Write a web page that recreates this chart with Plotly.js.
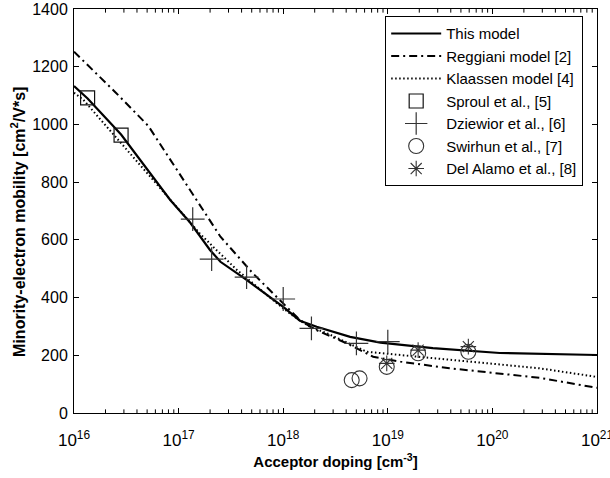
<!DOCTYPE html>
<html>
<head>
<meta charset="utf-8">
<script src="https://cdn.plot.ly/plotly-3.0.1.min.js"></script>
<style>
html,body{margin:0;padding:0;background:#fff}
#chart{width:610px;height:478px}
</style>
</head>
<body>
<div id="chart"></div>
<script>
// exponents of acceptor doping (log10 cm^-3) and mobilities (cm^2/V*s)
var thisModelLogN = [16.0, 16.13, 16.45, 16.92, 17.11, 17.30, 17.40, 17.65, 18.0, 18.16, 18.32, 18.64, 18.93, 19.43, 20.07, 20.5, 21.0];
var thisModelMu   = [1133, 1090, 965, 738, 660, 565, 524, 461, 368, 320, 299, 264, 244, 225, 208, 204, 201];

var reggLogN = [16.0, 16.4, 16.71, 17.045, 17.40, 17.71, 18.03, 18.16, 18.3, 18.45, 18.61, 18.86, 19.12, 19.59, 20.07, 20.45, 21.0];
var reggMu   = [1252, 1110, 995, 807, 611, 484, 368, 322, 290, 265, 241, 195, 178, 155, 138, 122, 87];

var klaLogN = [16.0, 16.09, 16.45, 16.98, 17.2, 17.33, 17.56, 17.94, 18.1, 18.25, 18.42, 18.8, 19.12, 19.59, 20.07, 20.45, 21.0];
var klaMu   = [1110, 1085, 935, 714, 623, 576, 495, 380, 335, 300, 276, 212, 201, 184, 166, 155, 125];

var sproulLogN = [16.13, 16.45];
var sproulMu   = [1092, 963];

var dziewiorLogN = [17.135, 17.316, 17.65, 18.0, 18.27, 18.70, 19.0];
var dziewiorMu   = [672, 533, 471, 395, 293, 241, 247];

var swirhunLogN = [18.655, 18.73, 18.99, 19.29, 19.77];
var swirhunMu   = [114, 120, 160, 207, 212];

var alamoLogN = [18.99, 19.29, 19.77];
var alamoMu   = [172, 218, 230];

var decadeExps = [16, 17, 18, 19, 20, 21];
var decadeLabels = ['10<sup>16</sup>', '10<sup>17</sup>', '10<sup>18</sup>', '10<sup>19</sup>', '10<sup>20</sup>', '10<sup>21</sup>'];
var minorMultipliers = [2, 3, 4, 5, 6, 7, 8, 9];

var yTitle = 'Minority-electron mobility [cm<sup>2</sup>/V*s]';
var xTitle = 'Acceptor doping [cm<sup>-3</sup>]';

function toN(arr){ return arr.map(function(e){ return Math.pow(10, e); }); }

// minor log tick positions (2..9 x 10^k)
var minorLogVals = [];
decadeExps.slice(0, -1).forEach(function(d){
  minorMultipliers.forEach(function(m){ minorLogVals.push(d + Math.log10(m)); });
});

// Shapes on a log axis: depending on the Plotly build, coordinates are read either as
// log10 units or as data values. Emit both forms; the wrong one falls outside the plot and is clipped.
var minorShapes = [];
function addTick(xv){
  minorShapes.push({type: 'line', xref: 'x', yref: 'paper', layer: 'above',
    x0: xv, x1: xv, y0: 0, y1: 0.009, line: {color: '#000', width: 1}});
  minorShapes.push({type: 'line', xref: 'x', yref: 'paper', layer: 'above',
    x0: xv, x1: xv, y0: 1, y1: 0.991, line: {color: '#000', width: 1}});
}
minorLogVals.forEach(function(v){ addTick(v); addTick(Math.pow(10, v)); });

var font = 'Liberation Sans, Arial, sans-serif';
var mk = '#333';

var traces = [
  {x: toN(thisModelLogN), y: thisModelMu, mode: 'lines', name: 'This model',
   line: {color: '#000', width: 2.2}},
  {x: toN(reggLogN), y: reggMu, mode: 'lines', name: 'Reggiani model [2]',
   line: {color: '#000', width: 2, dash: '8px,4px,2px,4px'}},
  {x: toN(klaLogN), y: klaMu, mode: 'lines', name: 'Klaassen model [4]',
   line: {color: '#000', width: 2, dash: '1.5px,2.5px'}},
  {x: toN(sproulLogN), y: sproulMu, mode: 'markers', name: 'Sproul et al., [5]',
   marker: {symbol: 'square-open', size: 14, color: '#111', line: {width: 1.2}}},
  {x: toN(dziewiorLogN), y: dziewiorMu, mode: 'markers', name: 'Dziewior et al., [6]',
   marker: {symbol: 'cross-thin-open', size: 17, color: mk, line: {width: 1.2, color: mk}}},
  {x: toN(swirhunLogN), y: swirhunMu, mode: 'markers', name: 'Swirhun et al., [7]',
   marker: {symbol: 'circle-open', size: 15, color: mk, line: {width: 1.1}}},
  {x: toN(alamoLogN), y: alamoMu, mode: 'markers', name: 'Del Alamo et al., [8]',
   marker: {symbol: 'asterisk-open', size: 13, color: mk, line: {width: 1.1, color: mk}}}
];

var layout = {
  width: 610, height: 478,
  margin: {l: 74, r: 13, t: 9, b: 65},
  paper_bgcolor: '#fff', plot_bgcolor: '#fff',
  font: {family: font, size: 14, color: '#000'},
  showlegend: true,
  legend: {x: 0.595, y: 0.982, xanchor: 'left', yanchor: 'top',
           bordercolor: '#000', borderwidth: 1, bgcolor: '#fff',
           font: {family: font, size: 15, color: '#000'}, itemwidth: 50, tracegroupgap: 0},
  xaxis: {
    type: 'log', range: [16, 21], tickmode: 'array', tickvals: toN(decadeExps), ticktext: decadeLabels,
    ticks: 'inside', ticklen: 5, tickcolor: '#000', showline: true, linecolor: '#000', linewidth: 1,
    mirror: 'allticks', showgrid: false, zeroline: false, ticklabelstandoff: 12,
    ticklabeloverflow: 'allow', automargin: false,
    tickfont: {family: font, size: 17},
    title: {text: xTitle, font: {family: font, size: 15, weight: 'bold'}, standoff: 7}
  },
  yaxis: {
    range: [0, 1400], dtick: 200, ticks: 'inside', ticklen: 5, tickcolor: '#000',
    showline: true, linecolor: '#000', linewidth: 1, mirror: 'allticks', showgrid: false, zeroline: false,
    tickfont: {family: font, size: 16}, ticklabelstandoff: 2, automargin: false
  },
  shapes: minorShapes,
  annotations: [{
    text: yTitle, textangle: -90, xref: 'paper', yref: 'paper', x: 0, y: 0.473,
    xanchor: 'center', yanchor: 'middle', xshift: -56, showarrow: false,
    font: {family: font, size: 16, weight: 'bold', color: '#000'}
  }]
};

Plotly.newPlot('chart', traces, layout, {displayModeBar: false, staticPlot: true});
</script>
</body>
</html>
